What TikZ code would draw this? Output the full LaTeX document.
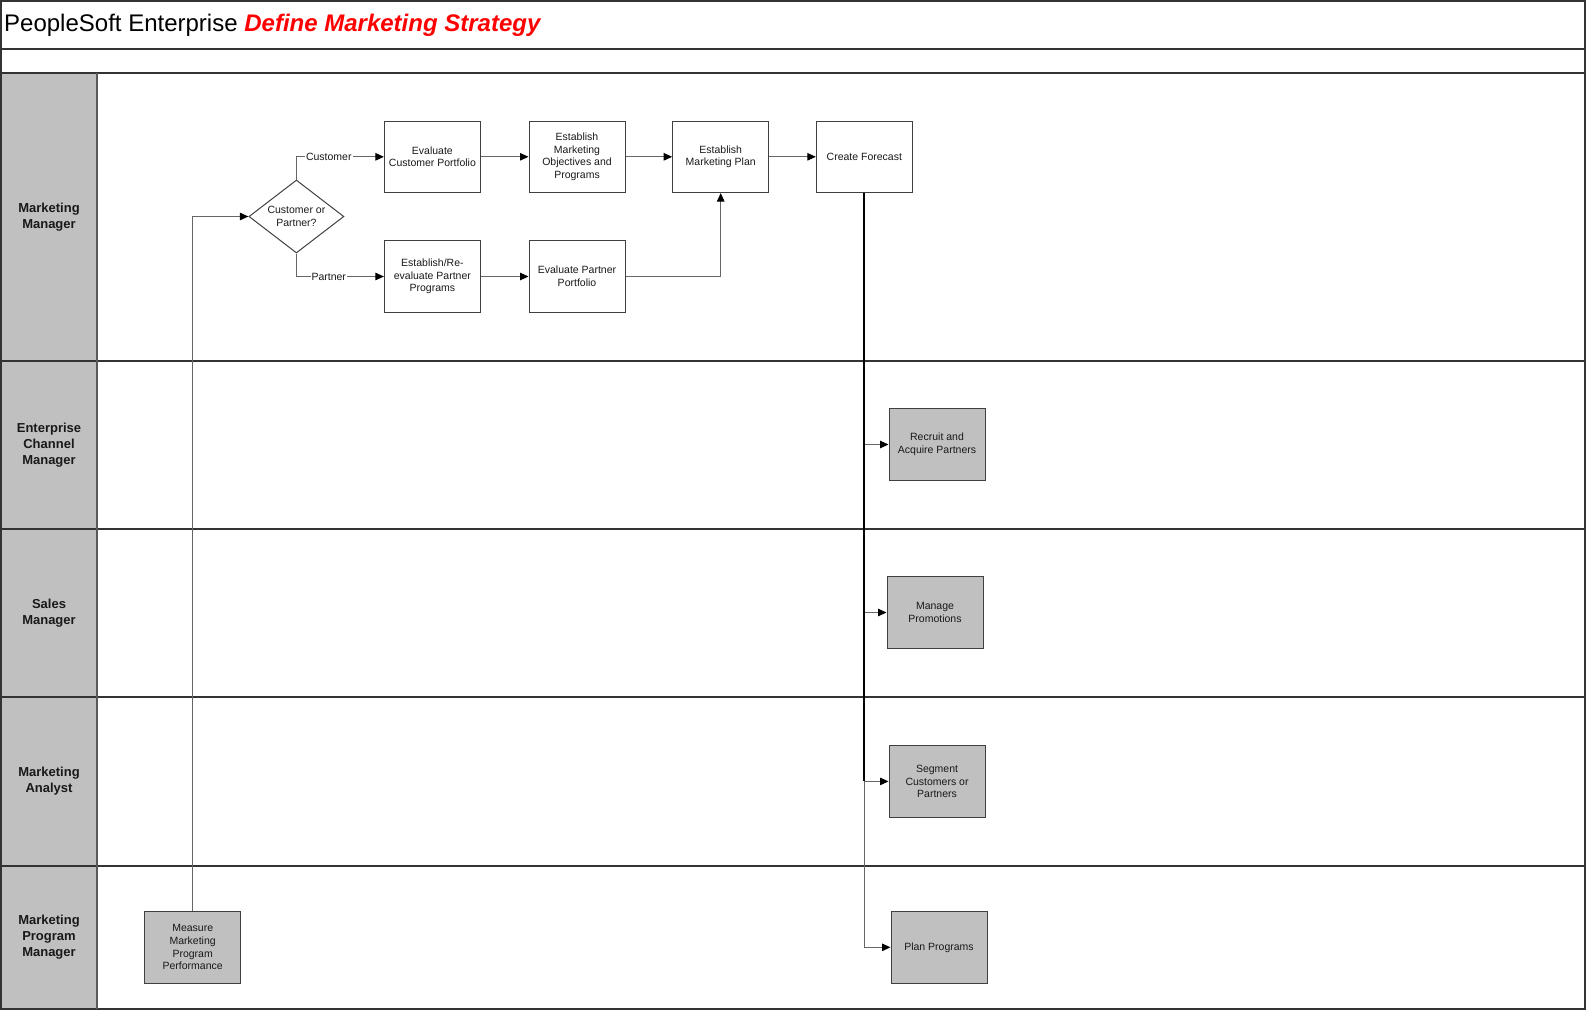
\documentclass[tikz,border=0pt]{standalone}
\usepackage{fontspec}
\setmainfont{Liberation Sans}
\usetikzlibrary{shapes.geometric,arrows.meta}
\definecolor{boxgray}{HTML}{C0C0C0}
\definecolor{linegray}{HTML}{404040}
\definecolor{titlered}{HTML}{FF0000}
\begin{document}
\begin{tikzpicture}[x=1pt,y=-1pt,
  laneline/.style={draw=black!80,line width=1.4pt},
  proc/.style={draw=linegray,line width=1pt,minimum width=96pt,minimum height=71.5pt,align=center,inner sep=1pt,font=\fontsize{10.5}{12.7}\selectfont,text=black!90},
  procg/.style={proc,fill=boxgray},
  dec/.style={shape=diamond,draw=linegray,line width=1pt,minimum width=95pt,minimum height=73pt,aspect=1.3,inner sep=0pt,align=center,font=\fontsize{10.5}{12.7}\selectfont,text=black!90},
  conn/.style={draw=black!60,line width=1pt,-{Triangle[length=8.5pt,width=7.5pt,color=black]}},
  clabel/.style={fill=white,inner sep=1pt,font=\fontsize{10.5}{12.7}\selectfont,text=black!90},
  lanelabel/.style={font=\bfseries\fontsize{13}{16}\selectfont,align=center,text=black!90}]
\useasboundingbox (0,0) rectangle (1586,1010);
% lane headers
\fill[boxgray] (1,73) rectangle (97,1009);
\draw[laneline] (1,1) rectangle (1585,1009);
\draw[laneline] (1,49) -- (1585,49);
\draw[laneline] (1,73) -- (1585,73);
\draw[laneline] (1,361) -- (1585,361);
\draw[laneline] (1,529) -- (1585,529);
\draw[laneline] (1,697) -- (1585,697);
\draw[laneline] (1,866) -- (1585,866);
\draw[draw=black!65,line width=1.2pt] (97,73) -- (97,1009);
% title
\node[anchor=west,inner sep=0pt,font=\fontsize{24}{28}\selectfont] (title) at (4,25) {PeopleSoft Enterprise \textcolor{titlered}{\bfseries\itshape Define Marketing Strategy}};
% lane labels
\node[lanelabel] (l1) at (49,217) {Marketing\\Manager};
\node[lanelabel] (l2) at (49,445) {Enterprise\\Channel\\Manager};
\node[lanelabel] (l3) at (49,613) {Sales\\Manager};
\node[lanelabel] (l4) at (49,781) {Marketing\\Analyst};
\node[lanelabel] (l5) at (49,937) {Marketing\\Program\\Manager};
% process nodes
\node[dec] (dec) at (296.4,216.5) {Customer or\\Partner?};
\node[proc] (ecp) at (432.4,156.8) {Evaluate\\Customer Portfolio};
\node[proc] (emo) at (577,156.8) {Establish\\Marketing\\Objectives and\\Programs};
\node[proc] (emp) at (720.7,156.8) {Establish\\Marketing Plan};
\node[proc] (cf) at (864.3,156.8) {Create Forecast};
\node[proc] (epp) at (432.4,276.5) {Establish/Re-\\evaluate Partner\\Programs};
\node[proc] (evp) at (577,276.5) {Evaluate Partner\\Portfolio};
\node[procg] (rap) at (937,444.5) {Recruit and\\Acquire Partners};
\node[procg] (mp) at (935,612.5) {Manage\\Promotions};
\node[procg] (scp) at (937,781.4) {Segment\\Customers or\\Partners};
\node[procg] (pp) at (939,947.3) {Plan Programs};
\node[procg] (mmp) at (192.7,947.3) {Measure\\Marketing\\Program\\Performance};
% connectors
\draw[conn] (mmp.north) |- (dec.west);
\draw[conn] (dec.north) |- node[clabel,pos=0.685] {Customer} (ecp.west);
\draw[conn] (dec.south) |- node[clabel,pos=0.685] {Partner} (epp.west);
\draw[conn] (ecp) -- (emo);
\draw[conn] (emo) -- (emp);
\draw[conn] (emp) -- (cf);
\draw[conn] (epp) -- (evp);
\draw[conn] (evp.east) -| (emp.south);
\draw[conn] (cf.south) |- (rap.west);
\draw[conn] (cf.south) |- (mp.west);
\draw[conn] (cf.south) |- (scp.west);
\draw[conn] (cf.south) |- (pp.west);
\coordinate (tk) at (cf.south |- scp.west);
\draw[black,line width=1.8pt] (cf.south) -- (tk);
\end{tikzpicture}
\end{document}
